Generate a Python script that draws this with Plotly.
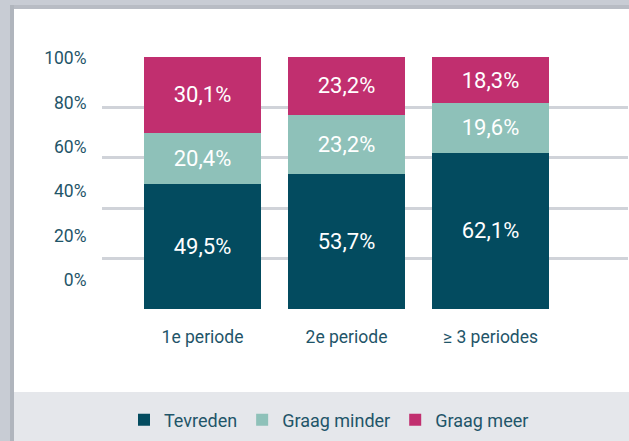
import plotly.graph_objects as go

categories = ["1e periode", "2e periode", "≥ 3 periodes"]
tevreden = [49.5, 53.7, 62.1]
graag_minder = [20.4, 23.2, 19.6]
graag_meer = [30.1, 23.2, 18.3]
y_ticks = [0, 20, 40, 60, 80, 100]
y_tick_labels = ["0%", "20%", "40%", "60%", "80%", "100%"]

C_TEAL = "#034b5f"
C_MINT = "#8ec1b9"
C_MAG = "#c12f6f"
C_TXT = "#1f5569"
FONT = "Roboto"

W, H = 629, 441
L, R, T, B = 102, 1, 57, 132
PW = W - L - R
PH = H - T - B


def px_x(x):
    return (x - L) / PW


def px_y(y):
    return (H - B - y) / PH


fig = go.Figure()
for name, vals, col in [("Tevreden", tevreden, C_TEAL),
                        ("Graag minder", graag_minder, C_MINT),
                        ("Graag meer", graag_meer, C_MAG)]:
    fig.add_trace(go.Bar(
        x=categories, y=vals, name=name, marker=dict(color=col, line=dict(width=0)),
        texttemplate="%{y:.1f}%", textposition="inside", insidetextanchor="middle",
        textangle=0, textfont=dict(color="white", size=22, family=FONT),
        hoverinfo="skip",
    ))

# invisible trace carrying the (offset) tick-label axis
fig.add_trace(go.Scatter(x=categories, y=[None] * 3, yaxis="y2", showlegend=False,
                         hoverinfo="skip", mode="markers"))

shapes = [
    # top gray strip
    dict(type="rect", xref="paper", yref="paper", layer="below",
         x0=px_x(-20), x1=px_x(660), y0=px_y(-20), y1=px_y(5),
         fillcolor="#c8ccd4", line=dict(width=0)),
    # left gray strip
    dict(type="rect", xref="paper", yref="paper", layer="below",
         x0=px_x(-20), x1=px_x(10), y0=px_y(-20), y1=px_y(460),
         fillcolor="#c8ccd4", line=dict(width=0)),
    # legend band
    dict(type="rect", xref="paper", yref="paper", layer="below",
         x0=px_x(14), x1=px_x(660), y0=px_y(392), y1=px_y(460),
         fillcolor="#e5e7eb", line=dict(width=0)),
    # left shadow
    dict(type="rect", xref="paper", yref="paper", layer="below",
         x0=px_x(10), x1=px_x(14), y0=px_y(5), y1=px_y(460),
         fillcolor="#b0b5bd", line=dict(width=0)),
    # top shadow
    dict(type="rect", xref="paper", yref="paper", layer="below",
         x0=px_x(14), x1=px_x(660), y0=px_y(5), y1=px_y(9),
         fillcolor="#b8bcc4", line=dict(width=0)),
]

fig.update_layout(
    width=W, height=H,
    margin=dict(l=L, r=R, t=T, b=B, pad=0),
    paper_bgcolor="white",
    plot_bgcolor="rgba(0,0,0,0)",
    barmode="stack",
    bargap=0.1875,
    separators=", ",
    font=dict(family=FONT, color=C_TXT, size=16),
    shapes=shapes,
    showlegend=True,
    legend=dict(orientation="h", x=px_x(329), xanchor="center",
                y=px_y(420), yanchor="middle", bgcolor="rgba(0,0,0,0)",
                font=dict(size=18, color=C_TXT, family=FONT),
                traceorder="normal", itemwidth=30),
    xaxis=dict(type="category", range=[-0.698, 2.955], showgrid=False,
               zeroline=False, showline=False, ticks="outside", ticklen=12,
               tickcolor="rgba(0,0,0,0)", tickfont=dict(size=17.5, color=C_TXT)),
    yaxis=dict(range=[0, 100], tickvals=y_ticks, showticklabels=False,
               showgrid=True, gridcolor="#d0d3d9", gridwidth=2.5,
               zeroline=False, showline=False),
    yaxis2=dict(overlaying="y", side="left", anchor="x",
                range=[-13.06, 100.45], tickvals=y_ticks, ticktext=y_tick_labels,
                showgrid=False, zeroline=False, showline=False,
                ticks="outside", ticklen=11, tickcolor="rgba(0,0,0,0)",
                tickfont=dict(size=17.5, color=C_TXT)),
)

fig.write_html("out.html", config={"displayModeBar": False},
               post_script="document.body.style.margin='0';")
